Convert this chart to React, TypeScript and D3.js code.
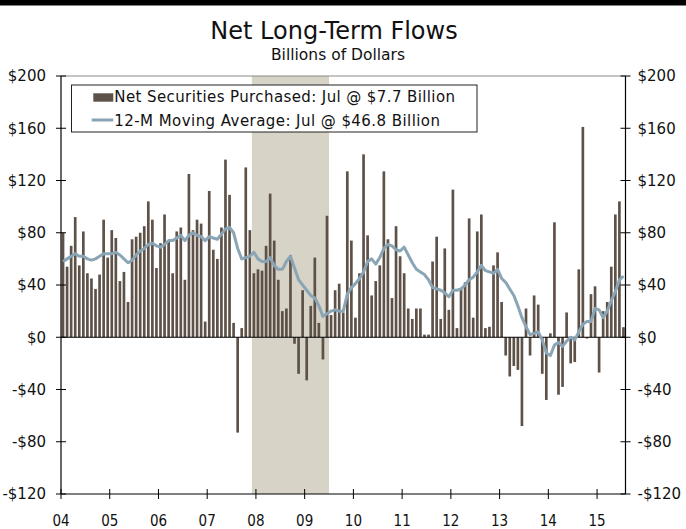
import React from "react";
import * as d3 from "d3";

const yearLabels = ["04", "05", "06", "07", "08", "09", "10", "11", "12", "13", "14", "15"];
const yTicks = [-120, -80, -40, 0, 40, 80, 120, 160, 200];

// Monthly net securities purchased, Jan 2004 - Jul 2015 (billions $)
const netPurchases = [
  80, 54, 70, 92, 55, 81, 49, 45, 37, 48, 90, 61,
  82, 76, 43, 50, 27, 75, 77, 80, 85, 104, 90, 53,
  72, 94, 74, 49, 81, 84, 44, 125, 82, 90, 87, 12,
  112, 67, 60, 84, 136, 109, 11, -73, 7, 130, 82, 49,
  52, 51, 70, 110, 74, 44, 20, 22, 63, -5, -28, 36,
  -33, 24, 61, 11, -17, 93, 17, 36, 41, 19, 127, 74,
  15, 49, 140, 78, 32, 43, 55, 127, 75, 30, 85, 62,
  49, 22, 14, 22, 22, 2, 2, 58, 77, 14, 68, 21,
  113, 7, 37, 42, 91, 15, 81, 94, 7, 8, 55, 65,
  27, -14, -30, -22, -25, -68, 22, -14, 32, 25, -28, -48,
  3, 88, -44, -38, 19, -20, -19, 52, 161, -1, 33, 39,
  -27, 20, 27, 54, 94, 104, 7.7,
];

// 12-month moving average
const movingAvg = [
  58, 60, 62, 64, 62, 62, 60, 59, 60, 62, 64, 64,
  64, 65, 63, 60, 57, 59, 63, 66, 68, 71, 72, 70,
  69, 71, 74, 74, 76, 78, 74, 78, 80, 78, 77, 74,
  77, 76, 75, 79, 83, 84, 80, 68, 60, 61, 62, 65,
  60, 58, 58, 61, 55, 52, 52, 58, 62, 53, 44, 40,
  36, 32, 30, 24, 16, 18, 20, 21, 20, 20, 33, 38,
  41, 45, 50, 58, 60, 56, 61, 68, 71, 70, 67, 66,
  69, 63, 57, 52, 50, 48, 44, 38, 37, 36, 34, 31,
  36, 36, 37, 40, 44, 46, 50, 55, 51, 50, 49, 52,
  45, 42, 37, 32, 24, 15, 8, 2, 3, 4, -2, -12,
  -14, -6, -4, -7, -3, 0, -2, 4, 10, 12, 12, 22,
  21, 15, 20, 28, 35, 44, 46.8,
];

// recession: Dec 2007 (month index 47) through Jun 2009 (index 65)
const recession = [47, 66];

const legendLabels = [
  "Net Securities Purchased: Jul @ $7.7 Billion",
  "12-M Moving Average: Jul @ $46.8 Billion",
];

const W = 686;
const H = 529;
const L = 61;
const R = 625.5;
const T = 76;
const B = 494;

const BAR_COLOR = "#5e5148";
const LINE_COLOR = "#8aa5b6";
const SHADE = "#d7d3c7";
const condensed = "'DejaVu Sans Condensed', 'DejaVu Sans', sans-serif";
const sans = "'DejaVu Sans', Verdana, sans-serif";

export default function App() {
  const n = netPurchases.length;
  const x = d3.scaleLinear().domain([0, n]).range([L, R]);
  const y = d3.scaleLinear().domain([-120, 200]).range([B, T]);
  const bw = (x(1) - x(0)) * 0.66;

  const line = d3
    .line<number>()
    .x((_, i) => x(i + 0.5))
    .y((d) => y(d))
    .curve(d3.curveLinear);

  const fmt = (t: number) => (t < 0 ? `-$${-t}` : `$${t}`);

  return (
    <svg
      width={W}
      height={H}
      style={{ position: "absolute", left: 0, top: 0, background: "#fff" }}
    >
      <rect x={0} y={0} width={W} height={5.5} fill="#000" />
      <text x={334} y={38.5} textAnchor="middle" fontFamily={sans} fontSize={24} fill="#111">
        Net Long-Term Flows
      </text>
      <text x={338} y={60} textAnchor="middle" fontFamily={sans} fontSize={15.5} fill="#111">
        Billions of Dollars
      </text>

      {/* recession shading */}
      <rect
        x={x(recession[0])}
        y={T}
        width={x(recession[1]) - x(recession[0])}
        height={B - T}
        fill={SHADE}
      />

      {/* top border */}
      <line x1={L} x2={R} y1={T} y2={T} stroke="#8a8a8a" strokeWidth={1} />

      {/* bars */}
      {netPurchases.map((v, i) => (
        <rect
          key={i}
          x={x(i) + (x(1) - x(0) - bw) / 2}
          y={Math.min(y(v), y(0))}
          width={bw}
          height={Math.abs(y(v) - y(0))}
          fill={BAR_COLOR}
        />
      ))}

      {/* zero line */}
      <line x1={L} x2={R} y1={y(0)} y2={y(0)} stroke="#000" strokeWidth={1} />

      {/* moving average */}
      <path d={line(movingAvg) || ""} fill="none" stroke={LINE_COLOR} strokeWidth={3} strokeLinejoin="round" />

      {/* axes */}
      <line x1={L} x2={L} y1={T} y2={B} stroke="#000" strokeWidth={1.2} />
      <line x1={R} x2={R} y1={T} y2={B} stroke="#000" strokeWidth={1.2} />
      <line x1={L} x2={R} y1={B} y2={B} stroke="#000" strokeWidth={1.2} />

      {yTicks.map((t) => (
        <g key={t}>
          <line x1={L - 5} x2={L + 5} y1={y(t)} y2={y(t)} stroke="#000" strokeWidth={1} />
          <line x1={R - 5} x2={R + 5} y1={y(t)} y2={y(t)} stroke="#000" strokeWidth={1} />
          <text x={L - 15} y={y(t)} dy="0.36em" textAnchor="end" fontFamily={sans} fontSize={15} fill="#111">
            {fmt(t)}
          </text>
          <text x={R + 12} y={y(t)} dy="0.36em" textAnchor="start" fontFamily={sans} fontSize={15} fill="#111">
            {fmt(t)}
          </text>
        </g>
      ))}

      {yearLabels.map((lab, k) => (
        <g key={lab}>
          <line x1={x(k * 12)} x2={x(k * 12)} y1={B - 5} y2={B + 5} stroke="#000" strokeWidth={1} />
          <text x={x(k * 12)} y={B + 32} textAnchor="middle" fontFamily={condensed} fontSize={15} fill="#111">
            {lab}
          </text>
        </g>
      ))}

      {/* legend */}
      <rect x={71.5} y={85} width={405.5} height={47} fill="#fff" stroke="#222" strokeWidth={1} />
      <rect x={93.3} y={93.3} width={20} height={8.4} fill={BAR_COLOR} />
      <text x={114.3} y={102.3} fontFamily={sans} fontSize={15} textLength={340.7} lengthAdjust="spacing" fill="#111">
        {legendLabels[0]}
      </text>
      <line x1={91.7} x2={113.3} y1={120} y2={120} stroke={LINE_COLOR} strokeWidth={3} />
      <text x={114.3} y={125.7} fontFamily={sans} fontSize={15} textLength={325.7} lengthAdjust="spacing" fill="#111">
        {legendLabels[1]}
      </text>
    </svg>
  );
}
